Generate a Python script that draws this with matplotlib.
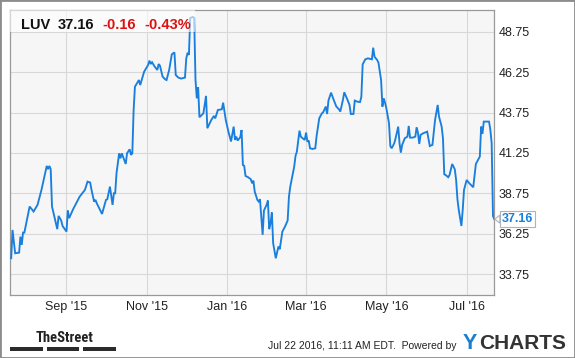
import matplotlib
matplotlib.use("Agg")
import matplotlib.pyplot as plt
import matplotlib.dates as mdates
import pandas as pd
from matplotlib.patches import Rectangle, Polygon
from matplotlib.transforms import IdentityTransform

# LUV daily closes
dates = [
    "2015-07-21", "2015-07-22", "2015-07-24", "2015-07-27", "2015-07-28", "2015-07-29", "2015-07-30", "2015-07-31",
    "2015-08-04", "2015-08-07", "2015-08-08", "2015-08-10", "2015-08-13", "2015-08-17", "2015-08-18", "2015-08-19",
    "2015-08-20", "2015-08-21", "2015-08-25", "2015-08-26", "2015-08-28", "2015-08-29",
    "2015-09-01", "2015-09-02", "2015-09-03", "2015-09-06", "2015-09-09", "2015-09-11", "2015-09-15", "2015-09-17",
    "2015-09-19", "2015-09-20", "2015-09-22", "2015-09-23", "2015-09-24", "2015-09-28",
    "2015-10-01", "2015-10-02", "2015-10-04", "2015-10-06", "2015-10-07", "2015-10-08", "2015-10-09", "2015-10-11",
    "2015-10-12", "2015-10-13", "2015-10-15", "2015-10-16", "2015-10-17", "2015-10-19", "2015-10-20", "2015-10-21",
    "2015-10-22", "2015-10-23", "2015-10-26", "2015-10-27", "2015-10-30",
    "2015-11-02", "2015-11-03", "2015-11-04", "2015-11-05", "2015-11-07", "2015-11-09", "2015-11-10", "2015-11-11",
    "2015-11-13", "2015-11-15", "2015-11-16", "2015-11-18", "2015-11-20", "2015-11-22", "2015-11-23", "2015-11-25",
    "2015-11-27", "2015-11-30",
    "2015-12-01", "2015-12-02", "2015-12-03", "2015-12-04", "2015-12-06", "2015-12-07", "2015-12-08", "2015-12-09",
    "2015-12-10", "2015-12-11", "2015-12-14", "2015-12-16", "2015-12-17", "2015-12-20", "2015-12-22", "2015-12-23",
    "2015-12-25", "2015-12-28", "2015-12-29", "2015-12-31",
    "2016-01-02", "2016-01-04", "2016-01-06", "2016-01-07", "2016-01-08", "2016-01-09", "2016-01-11", "2016-01-12",
    "2016-01-13", "2016-01-14", "2016-01-15", "2016-01-17", "2016-01-19", "2016-01-20", "2016-01-21", "2016-01-22",
    "2016-01-24", "2016-01-25", "2016-01-26", "2016-01-28", "2016-01-29", "2016-01-31",
    "2016-02-01", "2016-02-02", "2016-02-03", "2016-02-04", "2016-02-05", "2016-02-07", "2016-02-09", "2016-02-10",
    "2016-02-12", "2016-02-14", "2016-02-16", "2016-02-17", "2016-02-18", "2016-02-21", "2016-02-22", "2016-02-23",
    "2016-02-25", "2016-02-26", "2016-02-28", "2016-02-29",
    "2016-03-01", "2016-03-02", "2016-03-03", "2016-03-04", "2016-03-06", "2016-03-08", "2016-03-09", "2016-03-11",
    "2016-03-13", "2016-03-14", "2016-03-16", "2016-03-17", "2016-03-18", "2016-03-20", "2016-03-22", "2016-03-24",
    "2016-03-26", "2016-03-27", "2016-03-29", "2016-03-30",
    "2016-04-01", "2016-04-03", "2016-04-04", "2016-04-06", "2016-04-07", "2016-04-09", "2016-04-11", "2016-04-12",
    "2016-04-13", "2016-04-15", "2016-04-17", "2016-04-20", "2016-04-21", "2016-04-22", "2016-04-24", "2016-04-25",
    "2016-04-27", "2016-04-28", "2016-04-29", "2016-04-30",
    "2016-05-01", "2016-05-03", "2016-05-04", "2016-05-05", "2016-05-07", "2016-05-08", "2016-05-10", "2016-05-11",
    "2016-05-12", "2016-05-13", "2016-05-15", "2016-05-17", "2016-05-18", "2016-05-19", "2016-05-21", "2016-05-23",
    "2016-05-24", "2016-05-25", "2016-05-26", "2016-05-27", "2016-05-29",
    "2016-06-01", "2016-06-03", "2016-06-05", "2016-06-07", "2016-06-09", "2016-06-10", "2016-06-12", "2016-06-13",
    "2016-06-14", "2016-06-15", "2016-06-17", "2016-06-18", "2016-06-20", "2016-06-22", "2016-06-23", "2016-06-24",
    "2016-06-25", "2016-06-27", "2016-06-28", "2016-06-29",
    "2016-07-01", "2016-07-03", "2016-07-06", "2016-07-08", "2016-07-11", "2016-07-12", "2016-07-13", "2016-07-14",
    "2016-07-18", "2016-07-19", "2016-07-20", "2016-07-21", "2016-07-22",
]
prices = [
    34.74, 36.49, 35.05, 35.09, 36.08, 35.57, 36.33, 36.33,
    37.94, 37.63, 37.77, 38.04, 38.97, 40.45, 40.25, 40.45,
    40.25, 37.94, 36.54, 37.36, 37.07, 36.74,
    36.39, 37.69, 37.22, 37.77, 38.24, 38.55, 38.97, 39.48,
    39.42, 38.97, 38.24, 38.35, 38.14, 37.48,
    38.35, 38.39, 39.17, 38.04, 38.76, 38.76, 40.00, 41.23,
    40.92, 41.23, 40.78, 40.57, 41.23, 41.48, 41.13, 41.23,
    43.91, 45.35, 45.76, 45.45, 46.28,
    46.69, 46.96, 46.75, 46.86, 46.59, 46.38, 46.75, 46.65,
    45.97, 45.80, 45.76, 46.38, 47.35, 47.47, 46.07, 45.91,
    45.85, 45.91,
    47.10, 47.45, 47.31, 49.60, 49.66, 49.60, 45.76, 44.63,
    45.31, 43.46, 43.70, 44.78, 42.78, 43.29, 43.54, 43.39,
    43.91, 43.95, 44.36, 43.29,
    42.57, 41.96, 42.88, 42.06, 42.26, 42.02, 42.22, 42.67,
    40.51, 40.45, 39.83, 39.75, 39.63, 39.38, 39.54, 38.86,
    38.35, 38.25, 38.39, 36.19, 37.69, 38.04,
    38.31, 36.54, 36.90, 37.57, 35.67, 34.74, 35.47, 35.30,
    36.39, 36.70, 37.07, 38.55, 39.17, 40.41, 41.07, 41.33,
    42.63, 42.26, 42.12, 42.06,
    42.51, 41.95, 42.02, 41.54, 41.50, 41.54, 42.30, 43.39,
    43.70, 43.77, 44.12, 43.66, 44.49, 44.98, 44.53, 44.12,
    43.95, 43.81, 44.53, 45.00,
    44.63, 44.22, 43.66, 43.66, 44.49, 44.42, 44.40, 44.73,
    46.73, 47.04, 47.10, 47.04, 47.76, 47.20, 47.00, 46.83,
    45.76, 44.12, 44.63, 44.36,
    44.01, 43.09, 41.68, 41.54, 41.85, 42.16, 42.88, 41.85,
    41.27, 41.75, 42.16, 42.26, 42.92, 42.20, 42.20, 42.26,
    42.84, 42.51, 41.81, 42.37, 42.47,
    42.57, 41.68, 41.75, 43.29, 44.22, 43.50, 42.88, 42.16,
    39.93, 39.89, 39.75, 39.89, 40.57, 40.24, 39.58, 38.39,
    37.73, 36.74, 37.73, 38.97,
    39.58, 39.38, 39.13, 40.57, 41.03, 42.88, 42.43, 43.19,
    43.19, 42.68, 41.85, 37.36, 37.16,
]

x_ticks = ["2015-09-01", "2015-11-01", "2016-01-01", "2016-03-01", "2016-05-01", "2016-07-01"]
x_labels = ["Sep '15", "Nov '15", "Jan '16", "Mar '16", "May '16", "Jul '16"]
y_ticks = [33.75, 36.25, 38.75, 41.25, 43.75, 46.25, 48.75]

ticker = "LUV"
change = "-0.16"
change_pct = "-0.43%"
stamp = "Jul 22 2016, 11:11 AM EDT.  Powered by"

LINE = "#1a7fdc"
W, H = 575, 358

plt.rcParams["font.family"] = ["Liberation Sans", "DejaVu Sans"]

fig = plt.figure(figsize=(W / 100, H / 100), dpi=100)
fig.patch.set_facecolor("white")
ax = fig.add_axes([10 / W, 1 - 295 / H, 484.3 / W, 285 / H])
ax.set_facecolor("#f6f6f6")

x = pd.to_datetime(dates)
ax.plot(x, prices, color=LINE, lw=1.35, solid_joinstyle="miter", zorder=3)

ax.set_xlim(pd.Timestamp("2015-07-20 02:00"), pd.Timestamp("2016-07-22"))
ax.set_ylim(32.47, 50.09)
ax.set_xticks(pd.to_datetime(x_ticks))
ax.set_xticklabels(x_labels)
ax.set_yticks(y_ticks)
ax.set_yticklabels([f"{v:.2f}" for v in y_ticks])
ax.yaxis.tick_right()
ax.tick_params(length=0, labelsize=9, colors="#222222")
ax.tick_params(axis="y", pad=3)
ax.tick_params(axis="x", pad=4)
ax.grid(True, color="#d8d8d8", lw=0.8)
ax.set_axisbelow(True)
for s in ax.spines.values():
    s.set_color("#999999")
    s.set_linewidth(0.9)

# header box over the top left of the plot
ax.add_patch(Rectangle((0, 1 - 22 / 285), 185 / 484.3, 22 / 285, transform=ax.transAxes,
                       facecolor="white", alpha=0.6, edgecolor="none", zorder=4))
hy = 1 - 29 / H
fig.text(21.5 / W, hy, ticker, fontsize=10.5, fontweight="bold", color="#111111", va="baseline")
fig.text(57.5 / W, hy, f"{prices[-1]:.2f}", fontsize=10.5, fontweight="bold", color="#111111", va="baseline")
fig.text(102.5 / W, hy, change, fontsize=10.5, fontweight="bold", color="#dd1111", va="baseline")
fig.text(144 / W, hy, change_pct, fontsize=10.5, fontweight="bold", color="#dd1111", va="baseline")

# last value flag with a small pointer at the line end
ax.annotate(f"{prices[-1]:.2f}", xy=(x[-1], prices[-1]), xytext=(5.2, 0), textcoords="offset points",
            ha="left", va="center", fontsize=9, fontweight="bold", color=LINE, annotation_clip=False,
            bbox=dict(boxstyle="square,pad=0.15", facecolor="white", edgecolor="#a9b4c0", lw=0.8), zorder=6)
px, py = ax.transData.transform((mdates.date2num(x[-1]), prices[-1]))
fig.patches.append(Polygon([(px + 0.5, py), (px + 5.5, py + 4), (px + 5.5, py - 4)], closed=True,
                           transform=IdentityTransform(), facecolor="white", edgecolor="#a9b4c0", lw=0.8,
                           zorder=7))

# footer
fig.text(36 / W, 1 - 341.5 / H, "TheStreet", fontsize=10.5, fontweight="bold", color="#222222",
         family=["Liberation Sans Narrow", "DejaVu Sans Condensed", "Roboto Condensed", "Liberation Sans"],
         fontstretch="condensed", va="baseline")
for x0, x1 in [(10, 42.7), (46.7, 79.3), (83.3, 115.7)]:
    fig.patches.append(Rectangle((x0 / W, 1 - 350.7 / H), (x1 - x0) / W, 3.4 / H,
                                 transform=fig.transFigure, facecolor="#2b2b2b", edgecolor="none"))
fig.text(268 / W, 1 - 349 / H, stamp, fontsize=7.5, color="#222222", va="baseline")
fig.text(462.5 / W, 1 - 349 / H, "Y", fontsize=15.5, fontweight="bold", color="#1b7fd0", va="baseline")
fig.text(479 / W, 1 - 349 / H, "CHARTS", fontsize=15, fontweight="bold", color="#333333", va="baseline")

fig.patches.append(Rectangle((0, 0), 1, 1, transform=fig.transFigure, fill=False,
                             edgecolor="#8c8c8c", lw=2))

fig.savefig("out.png", dpi=100)
